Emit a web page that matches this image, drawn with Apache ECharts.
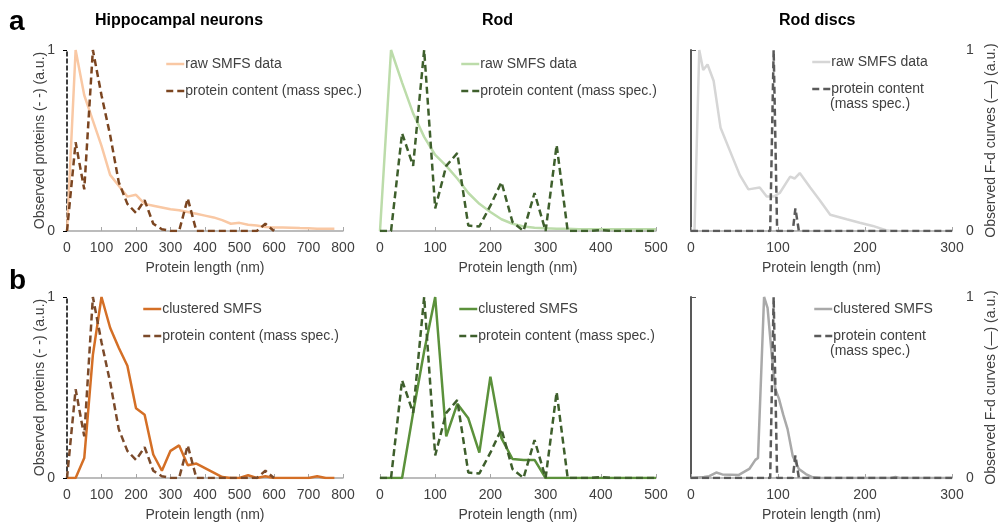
<html lang="en">
<head>
  <meta charset="utf-8">
  <title>SMFS vs mass spec</title>
  <style>
    html, body { margin: 0; padding: 0; background: #fff; }
    #chart { width: 999px; height: 524px; }
  </style>
</head>
<body>
  <div id="chart"></div>
</body>
<script src="https://cdn.jsdelivr.net/npm/echarts@6/dist/echarts.min.js"></script>
<script>

  // hippocampal neurons, 25 nm bins
  var hippoLen = [0, 25, 50, 75, 100, 125, 150, 175, 200, 225, 250, 275, 300, 325, 350, 375,
    400, 425, 450, 475, 500, 525, 550, 575, 600, 625, 650, 675, 700, 725, 750, 775];
  var hippoRaw = [0, 1.0, 0.75, 0.61, 0.47, 0.31, 0.25, 0.19, 0.2, 0.15, 0.14, 0.13, 0.12, 0.115, 0.105, 0.095,
    0.085, 0.075, 0.06, 0.04, 0.045, 0.035, 0.03, 0.022, 0.02, 0.02, 0.018, 0.016, 0.015, 0.013, 0.012, 0.012];
  var hippoClust = [0, 0, 0.11, 0.68, 1.0, 0.83, 0.72, 0.62, 0.385, 0.35, 0.13, 0.04, 0.15, 0.18, 0.07, 0.08,
    0.055, 0.03, 0.005, 0, 0, 0.015, 0, 0.01, 0, 0, 0, 0, 0, 0.01, 0, 0];
  // mass spec only goes to 600 nm
  var hippoMass = [0, 0.49, 0.23, 1.0, 0.75, 0.53, 0.27, 0.15, 0.1, 0.17, 0.04, 0.01, 0,
    0, 0.18, 0, 0, 0, 0, 0, 0, 0, 0, 0.04, 0];

  // rod, 20 nm bins
  var rodLen = [0, 20, 40, 60, 80, 100, 120, 140, 160, 180, 200, 220, 240, 260, 280, 300,
    320, 340, 360, 380, 400, 420, 440, 460, 480, 500];
  var rodRaw = [0, 1.0, 0.82, 0.65, 0.52, 0.42, 0.36, 0.29, 0.21, 0.15, 0.105, 0.065, 0.04, 0.025, 0.018, 0.015,
    0.013, 0.012, 0.01, 0.01, 0.01, 0.01, 0.01, 0.01, 0.01, 0.01];
  var rodClust = [0, 0, 0, 0.36, 0.7, 1.0, 0.23, 0.41, 0.33, 0.14, 0.56, 0.22, 0.105, 0.1, 0.1, 0,
    0, 0, 0, 0, 0, 0, 0, 0, 0, 0];
  var rodMass = [0, 0, 0.54, 0.36, 1.0, 0.125, 0.36, 0.43, 0.03, 0.025, 0.14, 0.27, 0.05, 0, 0.21, 0,
    0.475, 0, 0, 0, 0.005, 0, 0, 0, 0, 0];

  // rod discs
  var discsRawLen = [4, 9.5, 14, 19, 26, 34, 45, 56, 66, 79, 87, 95, 102, 114, 119, 125,
    137, 148, 160, 179, 194, 209, 224, 230];
  var discsRaw = [0, 1.0, 0.89, 0.92, 0.83, 0.57, 0.44, 0.31, 0.23, 0.24, 0.19, 0.19, 0.21, 0.30, 0.29, 0.32,
    0.24, 0.17, 0.09, 0.065, 0.046, 0.028, 0.004, 0];
  var discsClustLen = [0, 15, 21, 29, 36, 55, 67, 74, 77, 84, 88, 93, 97, 101, 106, 111,
    117, 124, 132, 140, 150, 230, 235, 240, 300];
  var discsClust = [0, 0.005, 0.01, 0.03, 0.02, 0.017, 0.05, 0.1, 0.11, 1.0, 0.94, 0.67, 0.49, 0.44, 0.35, 0.27,
    0.12, 0.05, 0.022, 0.004, 0, 0, 0.005, 0, 0];
  var discsMassLen = [0, 91, 95, 99, 117, 120, 124, 300];
  var discsMass = [0, 0, 1.0, 0, 0, 0.125, 0, 0];

  var titles = ['Hippocampal neurons', 'Rod', 'Rod discs'];
  var xMax = [800, 500, 300];

  function pairs(xs, ys) {
    return ys.map(function (y, i) { return [xs[i], y]; });
  }

  var font = 'Liberation Sans, Arial, sans-serif';
  var txt = '#404040';

  // grid boxes: col lefts/widths, row tops
  var colLeft = [67, 380, 691];
  var colWidth = [276, 276, 262];
  var rowTop = [50, 297];
  var plotH = 181;

  var grids = [], xAxes = [], yAxes = [];
  for (var r = 0; r < 2; r++) {
    for (var c = 0; c < 3; c++) {
      var k = r * 3 + c;
      grids.push({ left: colLeft[c], top: rowTop[r], width: colWidth[c], height: plotH });
      xAxes.push({
        gridIndex: k, type: 'value', min: 0, max: xMax[c], interval: 100,
        axisLine: { lineStyle: { color: '#a6a6a6', width: 1.5 } },
        axisTick: { show: true, inside: true, length: 4, lineStyle: { color: '#a6a6a6' } },
        splitLine: { show: false },
        axisLabel: { fontSize: 14, color: txt, margin: 10, fontFamily: font },
        name: 'Protein length (nm)', nameLocation: 'middle', nameGap: 30,
        nameTextStyle: { fontSize: 14, color: txt, fontFamily: font }
      });
      var y = { gridIndex: k, type: 'value', min: 0, max: 1, interval: 1, splitLine: { show: false } };
      if (c === 0) {
        y.axisLine = { show: true, lineStyle: { color: '#000', width: 1.5, type: [4, 3] } };
        y.axisTick = { show: true, length: 4, lineStyle: { color: '#000' } };
        y.axisLabel = { fontSize: 14, color: txt, margin: 12, fontFamily: font };
        y.name = 'Observed proteins (- -) (a.u.)';
        y.nameLocation = 'middle';
        y.nameGap = 20;
        y.nameMoveOverlap = false;
        y.nameTextStyle = { fontSize: 14, color: txt, fontFamily: font };
      } else if (c === 1) {
        y.show = false;
      } else {
        y.position = 'right';
        y.axisLine = { show: true, lineStyle: { color: '#595959', width: 2 } };
        y.axisTick = { show: true, length: 5, lineStyle: { color: '#595959' } };
        y.axisLabel = { fontSize: 14, color: txt, margin: 14, fontFamily: font };
        y.name = 'Observed F-d curves (\u2014) (a.u.)';
        y.nameLocation = 'middle';
        y.nameGap = 32;
        y.nameMoveOverlap = false;
        y.nameTextStyle = { fontSize: 14, color: txt, fontFamily: font };
      }
      yAxes.push(y);
    }
  }

  var dash = [7, 4];
  function line(name, k, data, color, dashed) {
    return {
      name: name, type: 'line', xAxisIndex: k, yAxisIndex: k, data: data,
      symbol: 'none', smooth: false, silent: true,
      itemStyle: { color: color },
      lineStyle: { color: color, width: 2.5, type: dashed ? dash : 'solid' }
    };
  }

  var series = [
    line('raw SMFS data|0', 0, pairs(hippoLen, hippoRaw), '#f9c8a4'),
    line('protein content (mass spec.)|0', 0, pairs(hippoLen, hippoMass), '#7b4520', true),
    line('raw SMFS data|1', 1, pairs(rodLen, rodRaw), '#bcdcaa'),
    line('protein content (mass spec.)|1', 1, pairs(rodLen, rodMass), '#3e5f2c', true),
    line('raw SMFS data|2', 2, pairs(discsRawLen, discsRaw), '#d6d6d6'),
    line('protein content|2', 2, pairs(discsMassLen, discsMass), '#5a5a5a', true),
    line('clustered SMFS|3', 3, pairs(hippoLen, hippoClust), '#d46f26'),
    line('protein content (mass spec.)|3', 3, pairs(hippoLen, hippoMass), '#7b4a2a', true),
    line('clustered SMFS|4', 4, pairs(rodLen, rodClust), '#5b913b'),
    line('protein content (mass spec.)|4', 4, pairs(rodLen, rodMass), '#3e5f2c', true),
    line('clustered SMFS|5', 5, pairs(discsClustLen, discsClust), '#a9a9a9'),
    line('protein content|5', 5, pairs(discsMassLen, discsMass), '#5a5a5a', true)
  ];

  var legendPos = [[160, 52], [455, 52], [806, 50], [137, 297], [453, 297], [808, 297]];
  var legends = legendPos.map(function (p, k) {
    return {
      data: [series[k * 2].name, series[k * 2 + 1].name],
      left: p[0], top: p[1], orient: 'vertical',
      itemWidth: 18, itemHeight: 14, itemGap: 13, selectedMode: false,
      itemStyle: { opacity: 0 },
      lineStyle: { width: 2.5 },
      textStyle: { fontSize: 14, color: txt, fontFamily: font, padding: [0, 0, 0, -4] },
      formatter: function (name) { return name.split('|')[0]; }
    };
  });

  var chart = echarts.init(document.getElementById('chart'));
  var option = {
    animation: false,
    textStyle: { fontFamily: font },
    title: [
      { text: 'a', left: 9, top: 8, padding: 0, textStyle: { fontSize: 28, fontWeight: 'bold', color: '#000', fontFamily: font } },
      { text: 'b', left: 9, top: 267, padding: 0, textStyle: { fontSize: 28, fontWeight: 'bold', color: '#000', fontFamily: font } },
      { text: titles[0], left: 95, top: 13, padding: 0, textStyle: { fontSize: 16, fontWeight: 'bold', color: '#000', fontFamily: font } },
      { text: titles[1], left: 482, top: 13, padding: 0, textStyle: { fontSize: 16, fontWeight: 'bold', color: '#000', fontFamily: font } },
      { text: titles[2], left: 779, top: 13, padding: 0, textStyle: { fontSize: 16, fontWeight: 'bold', color: '#000', fontFamily: font } }
    ],
    legend: legends,
    graphic: [
      { type: 'text', left: 830, top: 97, style: { text: '(mass spec.)', fontSize: 14, fill: txt, fontFamily: font } },
      { type: 'text', left: 830, top: 344, style: { text: '(mass spec.)', fontSize: 14, fill: txt, fontFamily: font } }
    ],
    grid: grids,
    xAxis: xAxes,
    yAxis: yAxes,
    series: series
  };
  chart.setOption(option);

</script>
</html>
